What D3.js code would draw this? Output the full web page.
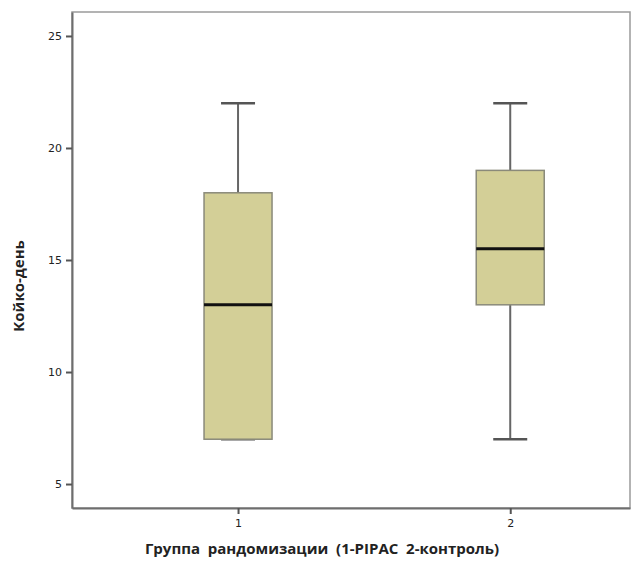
<!DOCTYPE html>
<html>
<head>
<meta charset="utf-8">
<script src="https://cdn.jsdelivr.net/npm/d3@7"></script>
<style>
    body { margin: 0; background: #fff; }
    .tick text { font-family: "DejaVu Sans", sans-serif; font-size: 11px; fill: #222; }
    .axisLabel { font-family: "Open Sans", sans-serif; font-weight: bold; font-size: 15px; fill: #222; white-space: pre; }
</style>
</head>
<body>
<div id="chart"></div>
<script>
// box plot values
const groups = ["1", "2"];
const mins    = [7, 7];
const q1s     = [7, 13];
const medians = [13, 15.5];
const q3s     = [18, 19];
const maxs    = [22, 22];
const yTicks  = [5, 10, 15, 20, 25];

const width = 634, height = 561;
const margin = {top: 12, left: 72, right: 4, bottom: 53};

const svg = d3.select("#chart")
    .append("svg")
    .attr("width", width)
    .attr("height", height);

const boxes = groups.map(function(g, i) {
    return {group: g, min: mins[i], q1: q1s[i], median: medians[i], q3: q3s[i], max: maxs[i]};
});

// x: categories sit at 1 and 2 on a linear axis, plot area is a bit wider on the left
const xScale = d3.scaleLinear()
    .domain([0.39, 2.44])
    .range([margin.left, width - margin.right]);

const yScale = d3.scaleLinear()
    .domain([3.93, 26.07])
    .range([height - margin.bottom, margin.top]);

const boxW = 68, capW = 34;

// frame: top/right lighter
svg.append("rect")
    .attr("x", margin.left)
    .attr("y", margin.top)
    .attr("width", width - margin.right - margin.left)
    .attr("height", height - margin.bottom - margin.top)
    .attr("fill", "none")
    .attr("stroke", "#9a9a9a")
    .attr("stroke-width", 1.5);

const xAxis = svg.append("g")
    .attr("class", "axis")
    .attr("transform", `translate(0,${height - margin.bottom})`)
    .call(d3.axisBottom(xScale).tickValues([1, 2]).tickFormat(function(d, i) { return groups[i]; })
        .tickSizeInner(6).tickSizeOuter(0).tickPadding(5));

const yAxis = svg.append("g")
    .attr("class", "axis")
    .attr("transform", `translate(${margin.left},0)`)
    .call(d3.axisLeft(yScale).tickValues(yTicks).tickSizeInner(6).tickSizeOuter(0).tickPadding(4));

svg.selectAll(".axis .domain").attr("stroke", "#6e6e6e").attr("stroke-width", 2);
svg.selectAll(".axis .tick line").attr("stroke", "#555").attr("stroke-width", 2);

const g = svg.selectAll(".box")
    .data(boxes)
    .enter()
    .append("g")
    .attr("class", "box");

// whiskers
g.append("line")
    .attr("x1", function(d, i) { return xScale(i + 1); })
    .attr("x2", function(d, i) { return xScale(i + 1); })
    .attr("y1", function(d) { return yScale(d.min); })
    .attr("y2", function(d) { return yScale(d.max); })
    .attr("stroke", "#666")
    .attr("stroke-width", 2);

g.selectAll(".cap")
    .data(function(d, i) { return [{v: d.min, i: i}, {v: d.max, i: i}]; })
    .enter()
    .append("line")
    .attr("class", "cap")
    .attr("x1", function(d) { return xScale(d.i + 1) - capW / 2; })
    .attr("x2", function(d) { return xScale(d.i + 1) + capW / 2; })
    .attr("y1", function(d) { return yScale(d.v); })
    .attr("y2", function(d) { return yScale(d.v); })
    .attr("stroke", "#555")
    .attr("stroke-width", 2.5);

g.append("rect")
    .attr("x", function(d, i) { return xScale(i + 1) - boxW / 2; })
    .attr("y", function(d) { return yScale(d.q3); })
    .attr("width", boxW)
    .attr("height", function(d) { return yScale(d.q1) - yScale(d.q3); })
    .attr("fill", "#d3cf97")
    .attr("stroke", "#8a8a7a")
    .attr("stroke-width", 1.5);

g.append("line")
    .attr("x1", function(d, i) { return xScale(i + 1) - boxW / 2; })
    .attr("x2", function(d, i) { return xScale(i + 1) + boxW / 2; })
    .attr("y1", function(d) { return yScale(d.median); })
    .attr("y2", function(d) { return yScale(d.median); })
    .attr("stroke", "#111")
    .attr("stroke-width", 3);

svg.append("text")
    .attr("class", "axisLabel")
    .attr("x", 322)
    .attr("y", 554)
    .attr("text-anchor", "middle")
    .text("Группа  рандомизации  (1-PIPAC  2-контроль)");

svg.append("text")
    .attr("class", "axisLabel")
    .attr("transform", "rotate(-90)")
    .attr("x", -286)
    .attr("y", 24)
    .attr("text-anchor", "middle")
    .text("Койко-день");
</script>
</body>
</html>
